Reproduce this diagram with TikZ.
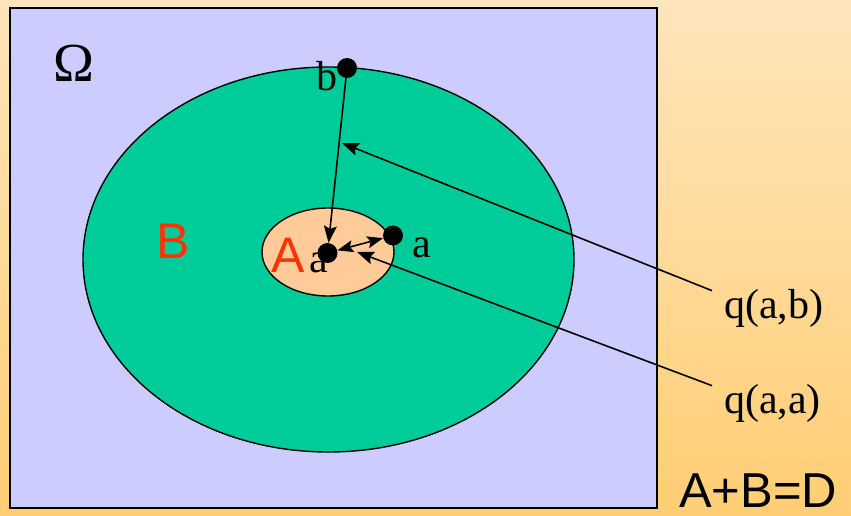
\documentclass[tikz,border=0pt]{standalone}
\usepackage{fontspec}
\setmainfont{Liberation Serif}
\newfontfamily\arialfont{Liberation Sans}
\usetikzlibrary{arrows.meta,calc}
\definecolor{bgtop}{HTML}{FFE5BC}
\definecolor{bgbot}{HTML}{FFCE74}
\definecolor{omegabg}{HTML}{CCCCFF}
\definecolor{setB}{HTML}{00CC99}
\definecolor{setA}{HTML}{FFCC99}
\definecolor{setred}{HTML}{FF3300}
\tikzset{
  pt/.style={circle, fill=black, inner sep=0pt, minimum size=20pt},
  lbl/.style={inner sep=0pt, anchor=base west, font=\fontsize{42}{50}\selectfont},
  big/.style={inner sep=0pt, anchor=base west, font=\arialfont\fontsize{50}{60}\selectfont},
  arr/.style={-{Stealth[length=17pt,width=13pt,inset=3pt]}, line width=1.6pt},
  dbl/.style={{Stealth[length=16pt,width=12pt,inset=3pt]}-{Stealth[length=16pt,width=12pt,inset=3pt]}, line width=1.6pt},
}

\begin{document}
\begin{tikzpicture}[x=1pt, y=-1pt]
    \shade[top color=bgtop, bottom color=bgbot] (0,0) rectangle (851,516);
    \useasboundingbox (0,0) rectangle (851,516);
    % domain and the two sets
    \draw[line width=2pt, fill=omegabg] (10,8) rectangle (657,508);
    \draw[line width=1.4pt, fill=setB] (328.5,259.5) ellipse [x radius=245.5pt, y radius=192.5pt];
    \draw[line width=1.4pt, fill=setA] (328,252) ellipse [x radius=66pt, y radius=44pt];
    \node[lbl, font=\fontsize{55}{60}\selectfont] (omega) at (53,82) {Ω};
    \node[big, text=setred] (setb) at (156,258) {B};
    \node[big, text=setred] (seta) at (271,272) {A};
    % points
    \node[pt] (b) at (347,68) {};
    \node[pt] (ap) at (327.5,253) {};
    \node[pt] (a) at (393,235.5) {};
    \node[lbl] (lb) at (316,91) {b};
    \node[lbl] (lap) at (309,272) {a};
    \node[lbl] (la) at (412,257) {a};
    % kernels
    \node[lbl] (qab) at (724,318) {q(a,b)};
    \node[lbl] (qaa) at (724,413) {q(a,a)};
    \coordinate (mab) at (342,143);
    \coordinate (maa) at (357,252);
    \node[big, font=\arialfont\fontsize{49}{55}\selectfont] (sum) at (679,507) {A+B=D};
    \draw[arr] (b) -- (ap);
    \draw[dbl] (ap) -- (a);
    \draw[arr] ($(qab.north west)+(-12,2)$) -- (mab);
    \draw[arr] ($(qaa.north west)+(-12,2)$) -- (maa);
\end{tikzpicture}
\end{document}
